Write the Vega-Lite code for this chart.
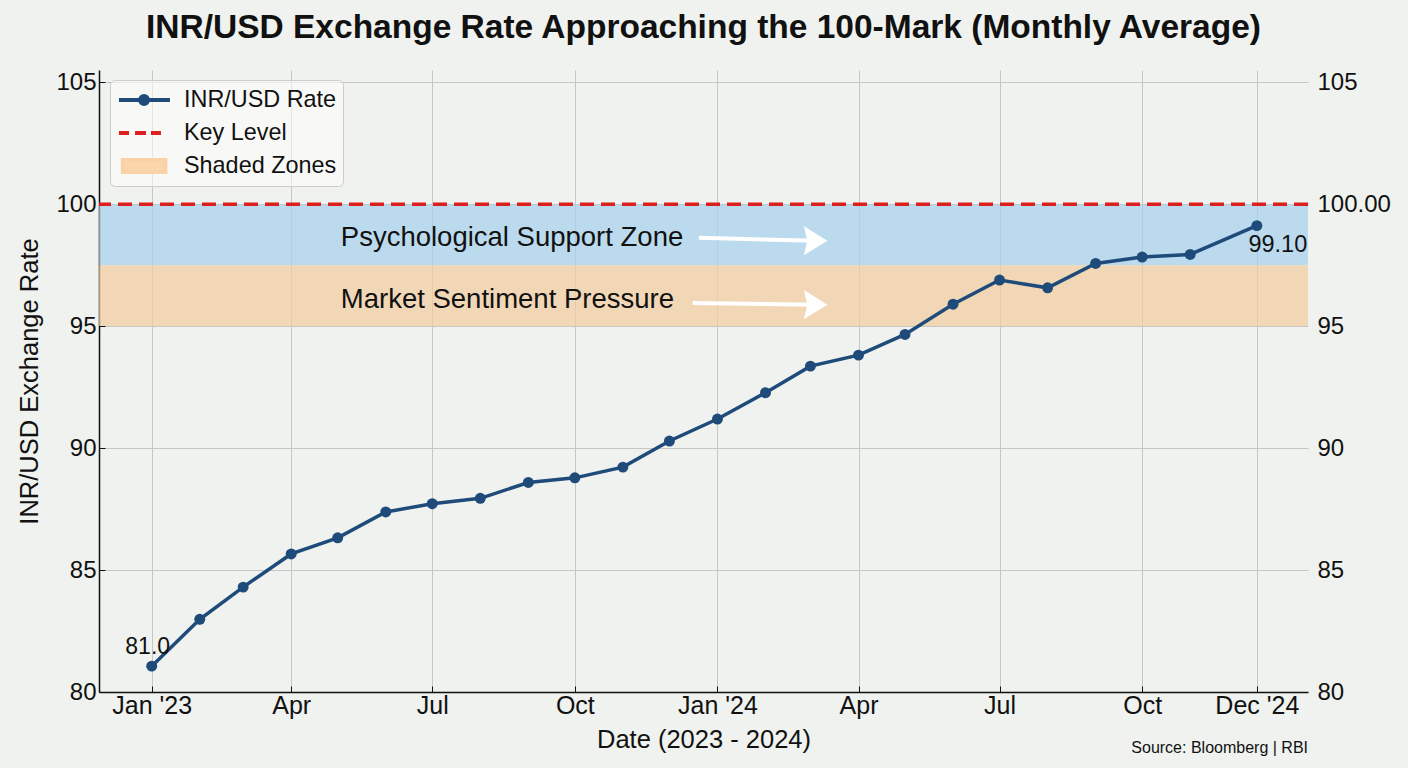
{
  "$schema": "https://vega.github.io/schema/vega-lite/v6.json",
  "width": 1209,
  "height": 622,
  "autosize": {"type": "none"},
  "padding": {"left": 99, "top": 70, "right": 100, "bottom": 76},
  "background": "#eff2ee",
  "config": {
    "font": "Liberation Sans",
    "view": {"stroke": null},
    "axis": {"labelColor": "#111111", "titleColor": "#111111", "titleFontWeight": "normal"}
  },
  "title": {
    "text": "INR/USD Exchange Rate Approaching the 100-Mark (Monthly Average)",
    "fontSize": 33.5,
    "fontWeight": "bold",
    "color": "#111111",
    "anchor": "middle",
    "offset": 25
  },
  "datasets": {
    "rates": [
      {"month": "2023-01-01", "rate": 81.06, "label": "81.0"},
      {"month": "2023-02-01", "rate": 82.98},
      {"month": "2023-03-01", "rate": 84.30},
      {"month": "2023-04-01", "rate": 85.66},
      {"month": "2023-05-01", "rate": 86.32},
      {"month": "2023-06-01", "rate": 87.38},
      {"month": "2023-07-01", "rate": 87.72},
      {"month": "2023-08-01", "rate": 87.94},
      {"month": "2023-09-01", "rate": 88.59},
      {"month": "2023-10-01", "rate": 88.78},
      {"month": "2023-11-01", "rate": 89.22},
      {"month": "2023-12-01", "rate": 90.29},
      {"month": "2024-01-01", "rate": 91.19},
      {"month": "2024-02-01", "rate": 92.27},
      {"month": "2024-03-01", "rate": 93.36},
      {"month": "2024-04-01", "rate": 93.81},
      {"month": "2024-05-01", "rate": 94.66},
      {"month": "2024-06-01", "rate": 95.90},
      {"month": "2024-07-01", "rate": 96.89},
      {"month": "2024-08-01", "rate": 96.57},
      {"month": "2024-09-01", "rate": 97.57},
      {"month": "2024-10-01", "rate": 97.83},
      {"month": "2024-11-01", "rate": 97.94},
      {"month": "2024-12-14", "rate": 99.12, "label": "99.10"}
    ],
    "zones": [
      {"zone": "Psychological Support Zone", "lo": 97.5, "hi": 100},
      {"zone": "Market Sentiment Pressure", "lo": 95, "hi": 97.5}
    ],
    "levels": [
      {"level": 100}
    ],
    "notes": [
      {"date": "2023-05-03", "value": 98.6, "note": "Psychological Support Zone"},
      {"date": "2023-05-03", "value": 96.07, "note": "Market Sentiment Pressure"}
    ],
    "arrows": [
      {"start": "2023-12-20", "end": "2024-03-04", "from": 98.62, "to": 98.5},
      {"start": "2023-12-16", "end": "2024-03-04", "from": 95.95, "to": 95.88}
    ],
    "source": [
      {"date": "2025-01-16", "value": 80, "text": "Source: Bloomberg | RBI"}
    ],
    "legend": [
      {"entry": "INR/USD Rate"},
      {"entry": "Key Level"},
      {"entry": "Shaded Zones"}
    ]
  },
  "resolve": {"scale": {"y": "independent"}},
  "layer": [
    {
      "layer": [
        {
          "data": {"name": "zones"},
          "mark": {"type": "rect", "opacity": 0.7},
          "encoding": {
            "y": {
              "field": "lo",
              "type": "quantitative",
              "scale": {"domain": [80, 105.5], "nice": false, "zero": false},
              "axis": {
                "orient": "left",
                "values": [80, 85, 90, 95, 100, 105],
                "title": "INR/USD Exchange Rate",
                "titleFontSize": 25.5,
                "titlePadding": 13,
                "labelFontSize": 24,
                "labelPadding": 9,
                "tickSize": -6,
                "tickColor": "#111111",
                "domainColor": "#111111",
                "domainWidth": 1.5,
                "grid": true,
                "gridColor": "#c6c6c6",
                "gridWidth": 1
              }
            },
            "y2": {"field": "hi"},
            "fill": {
              "condition": {"test": "datum.lo == 97.5", "value": "#a6d0ec"},
              "value": "#f3cca0"
            }
          }
        },
        {
          "data": {"name": "rates"},
          "mark": {
            "type": "line",
            "color": "#1f4b7b",
            "strokeWidth": 3.5,
            "point": {"filled": true, "size": 120, "color": "#1f4b7b"}
          },
          "encoding": {
            "x": {
              "field": "month",
              "type": "temporal",
              "scale": {
                "type": "utc",
                "domain": [
                  {"year": 2022, "month": 11, "date": 28, "utc": true},
                  {"year": 2025, "month": 1, "date": 16, "utc": true}
                ]
              },
              "axis": {
                "values": [
                  {"year": 2023, "month": 1, "date": 1, "utc": true},
                  {"year": 2023, "month": 4, "date": 1, "utc": true},
                  {"year": 2023, "month": 7, "date": 1, "utc": true},
                  {"year": 2023, "month": 10, "date": 1, "utc": true},
                  {"year": 2024, "month": 1, "date": 1, "utc": true},
                  {"year": 2024, "month": 4, "date": 1, "utc": true},
                  {"year": 2024, "month": 7, "date": 1, "utc": true},
                  {"year": 2024, "month": 10, "date": 1, "utc": true},
                  {"year": 2024, "month": 12, "date": 14, "utc": true}
                ],
                "labelExpr": "(utcmonth(datum.value) == 0 || utcmonth(datum.value) == 11) ? utcFormat(datum.value, \"%b '%y\") : utcFormat(datum.value, '%b')",
                "title": "Date (2023 - 2024)",
                "titleFontSize": 25.5,
                "titlePadding": 9,
                "labelFontSize": 25,
                "labelPadding": 7,
                "labelOverlap": false,
                "labelFlush": false,
                "tickSize": -6,
                "tickColor": "#111111",
                "domainColor": "#111111",
                "domainWidth": 1.5,
                "grid": true,
                "gridColor": "#c6c6c6",
                "gridWidth": 1
              }
            },
            "y": {"field": "rate", "type": "quantitative"}
          }
        },
        {
          "data": {"name": "rates"},
          "transform": [{"filter": "datum.label == '81.0'"}],
          "mark": {"type": "text", "fontSize": 23, "color": "#111111", "align": "center", "baseline": "middle", "dx": -4, "dy": -19},
          "encoding": {
            "x": {"field": "month", "type": "temporal"},
            "y": {"field": "rate", "type": "quantitative"},
            "text": {"field": "label"}
          }
        },
        {
          "data": {"name": "rates"},
          "transform": [{"filter": "datum.label == '99.10'"}],
          "mark": {"type": "text", "fontSize": 23.5, "color": "#111111", "align": "center", "baseline": "middle", "dx": 21, "dy": 19},
          "encoding": {
            "x": {"field": "month", "type": "temporal"},
            "y": {"field": "rate", "type": "quantitative"},
            "text": {"field": "label"}
          }
        },
        {
          "data": {"name": "notes"},
          "mark": {"type": "text", "fontSize": 27.5, "color": "#111111", "align": "left", "baseline": "middle"},
          "encoding": {
            "x": {"field": "date", "type": "temporal"},
            "y": {"field": "value", "type": "quantitative"},
            "text": {"field": "note"}
          }
        },
        {
          "data": {"name": "arrows"},
          "mark": {"type": "rule", "color": "#ffffff", "strokeWidth": 4},
          "encoding": {
            "x": {"field": "start", "type": "temporal"},
            "x2": {"field": "end"},
            "y": {"field": "from", "type": "quantitative"},
            "y2": {"field": "to"}
          }
        },
        {
          "data": {"name": "arrows"},
          "mark": {
            "type": "point",
            "filled": true,
            "color": "#ffffff",
            "opacity": 1,
            "size": 500,
            "shape": "M-1,-1.3L1.1,0L-1,1.3L-0.7,0Z"
          },
          "encoding": {
            "x": {"field": "end", "type": "temporal"},
            "y": {"field": "to", "type": "quantitative"}
          }
        },
        {
          "data": {"name": "source"},
          "mark": {"type": "text", "fontSize": 16, "color": "#111111", "align": "right", "baseline": "middle", "dy": 56},
          "encoding": {
            "x": {"field": "date", "type": "temporal"},
            "y": {"field": "value", "type": "quantitative"},
            "text": {"field": "text"}
          }
        },
        {
          "data": {"name": "legend"},
          "mark": {"type": "point", "opacity": 0, "strokeWidth": 4},
          "encoding": {
            "fill": {
              "field": "entry",
              "type": "nominal",
              "scale": {"domain": ["INR/USD Rate", "Key Level", "Shaded Zones"], "range": ["#1f4b7b", "#dd1f1f", "#fbd6ab"]},
              "legend": {
                "orient": "none", "legendX": 11, "legendY": 10, "direction": "vertical", "title": null,
                "labelFontSize": 23.4, "labelColor": "#111111", "symbolSize": 576, "symbolStrokeWidth": 4,
                "symbolOpacity": 1, "padding": 6, "rowPadding": 7, "labelOffset": 40,
                "fillColor": "rgba(255,255,255,0.55)", "strokeColor": "#cccccc", "cornerRadius": 5
              }
            },
            "stroke": {
              "field": "entry",
              "type": "nominal",
              "scale": {"domain": ["INR/USD Rate", "Key Level", "Shaded Zones"], "range": ["#1f4b7b", "#dd1f1f", "#f9d3a6"]},
              "legend": {
                "orient": "none", "legendX": 11, "legendY": 10, "direction": "vertical", "title": null,
                "labelFontSize": 23.4, "labelColor": "#111111", "symbolSize": 576, "symbolStrokeWidth": 4,
                "symbolOpacity": 1, "padding": 6, "rowPadding": 7, "labelOffset": 40,
                "fillColor": "rgba(255,255,255,0.55)", "strokeColor": "#cccccc", "cornerRadius": 5
              }
            },
            "shape": {
              "field": "entry",
              "type": "nominal",
              "scale": {
                "domain": ["INR/USD Rate", "Key Level", "Shaded Zones"],
                "range": [
                  "M-0.92,0H3.33M1.5,0A0.33,0.33 0 1 1 0.84,0A0.33,0.33 0 1 1 1.5,0Z",
                  "M-0.92,0H-0.08M0.42,0H1.33M1.75,0H2.58",
                  "M-0.6,-0.5H2.95V0.5H-0.6Z"
                ]
              },
              "legend": {
                "orient": "none", "legendX": 11, "legendY": 10, "direction": "vertical", "title": null,
                "labelFontSize": 23.4, "labelColor": "#111111", "symbolSize": 576, "symbolStrokeWidth": 4,
                "symbolOpacity": 1, "padding": 6, "rowPadding": 7, "labelOffset": 40,
                "fillColor": "rgba(255,255,255,0.55)", "strokeColor": "#cccccc", "cornerRadius": 5
              }
            }
          }
        }
      ]
    },
    {
      "data": {"name": "levels"},
      "mark": {"type": "rule", "color": "#dd1f1f", "strokeWidth": 3.5, "strokeDash": [14, 7]},
      "encoding": {
        "y": {
          "field": "level",
          "type": "quantitative",
          "scale": {"domain": [80, 105.5], "nice": false, "zero": false},
          "axis": {
            "orient": "right",
            "values": [80, 85, 90, 95, 100, 105],
            "labelExpr": "datum.value == 100 ? '100.00' : datum.label",
            "title": null,
            "domain": false,
            "ticks": false,
            "grid": false,
            "labelFontSize": 24,
            "labelPadding": 9
          }
        }
      }
    }
  ]
}
